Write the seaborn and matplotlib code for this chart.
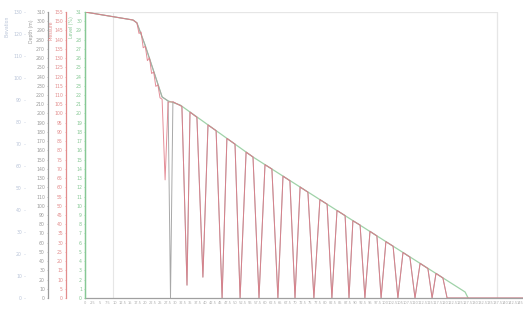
import numpy as np
import pandas as pd
import matplotlib
matplotlib.use("Agg")
import matplotlib.pyplot as plt
import seaborn as sns

# ---------------- data ----------------
# envelope (green)
env_x = [0, 16, 17.3, 20, 23.3, 25.7, 27.7, 31.7, 56.0, 71.7, 126.7, 127.7]
env_y = [100, 97.2, 96.2, 88.5, 78.0, 70.3, 68.9, 67.5, 49.3, 38.8, 2.1, 0]

# start of gray series
gray_head_x = [0, 16, 17.3, 20, 23.3, 25.7, 27.7, 28.5]
gray_head_y = [100, 97.2, 96.2, 88.5, 78.0, 70.3, 68.9, 0]

# start of red series (noisy descent)
red_head_x = [0, 16, 17.3, 18.0, 18.7, 19.4, 20.1, 20.8, 21.5, 22.2, 22.9,
              23.6, 24.3, 25.0, 25.7, 26.7, 27.7]
red_head_y = [100, 97.2, 96.2, 92.5, 93.0, 87.5, 88.0, 83.0, 84.0, 78.5, 79.0,
              74.0, 74.5, 70.0, 69.5, 41.3, 68.5]

# shared pulse section
tooth_x = [29.3, 32.3, 34.0, 35.0, 37.3, 39.3, 41.0, 43.7, 45.7, 47.3, 50.0,
           51.7, 53.7, 56.0, 58.0, 60.0, 62.3, 64.3, 66.0, 68.3, 70.0, 71.7,
           74.3, 76.3, 78.3, 80.7, 82.3, 84.0, 86.7, 88.0, 89.3, 91.7, 93.3,
           95.0, 97.3, 98.7, 100.3, 102.7, 104.3, 106.0, 108.3, 110.0, 111.7,
           114.3, 115.7, 117.0, 119.3, 120.7, 146.0]
tooth_y = [68.6, 67.0, 4.5, 65.0, 63.2, 7.3, 60.5, 58.5, 0, 55.8, 53.8,
           0, 51.0, 49.3, 0, 46.6, 45.1, 0, 42.6, 41.0, 0, 38.8,
           37.0, 0, 34.4, 32.8, 0, 30.6, 28.8, 0, 27.0, 25.5, 0,
           23.3, 21.7, 0, 19.7, 18.1, 0, 15.9, 14.3, 0, 12.1,
           10.3, 0, 8.6, 7.0, 0, 0]

# axis tick values
axis_a_ticks = list(range(0, 140, 10))      # sparse outer axis
axis_b_ticks = list(range(0, 320, 10))
axis_c_ticks = list(range(0, 160, 5))
axis_d_ticks = list(range(0, 32, 1))
x_ticks = list(np.arange(0, 146, 2.5))

labels = {"A": "Elevation", "B": "Depth (m)", "C": "Pressure", "D": "Level (%)"}
colors = {"A": "#b9c4d8", "B": "#9a9a9a", "C": "#e38c8c", "D": "#86c894"}

gray_df = pd.DataFrame({"x": gray_head_x + tooth_x, "y": gray_head_y + tooth_y})
red_df = pd.DataFrame({"x": red_head_x + tooth_x, "y": red_head_y + tooth_y})
env_df = pd.DataFrame({"x": env_x, "y": env_y})

# ---------------- figure ----------------
sns.set_theme(style="white")
plt.rcParams["font.family"] = ["DejaVu Sans"]
fs = 3.3

fig = plt.figure(figsize=(5.23, 3.2), dpi=100)
W, H = 523, 320
ax = fig.add_axes([85 / W, (H - 298) / H, 438 / W, 286 / H])
ax.set_xlim(0, 146)
ax.set_ylim(0, 100)

# light frame / grid
ax.axvline(9.3, color="#e6e6e6", lw=0.8, zorder=0)
ax.axvline(137.3, color="#e6e6e6", lw=0.9, zorder=0)
ax.axhline(100, xmax=137.3 / 146, color="#e6e6e6", lw=0.9, zorder=0)

sns.lineplot(data=env_df, x="x", y="y", ax=ax, sort=False, estimator=None,
             color="#9fd2a8", lw=0.9, zorder=2)
sns.lineplot(data=gray_df, x="x", y="y", ax=ax, sort=False, estimator=None,
             color="#a8a8a8", lw=0.7, zorder=3)
sns.lineplot(data=red_df, x="x", y="y", ax=ax, sort=False, estimator=None,
             color="#e07a86", lw=0.7, alpha=0.85, zorder=4)

ax.set_xlabel("")
ax.set_ylabel("")
ax.set_yticks([])
for s in ["top", "right"]:
    ax.spines[s].set_visible(False)
ax.spines["left"].set_color(colors["D"])
ax.spines["left"].set_linewidth(0.9)
ax.spines["bottom"].set_color("#a0a0a0")
ax.spines["bottom"].set_linewidth(0.9)
ax.set_xticks(x_ticks)
ax.set_xticklabels([f"{v:g}" for v in x_ticks])
ax.tick_params(axis="x", labelsize=2.6, colors="#b0b0b0", length=1.2, pad=1,
               width=0.4)

# extra y axes on the left
def add_axis(key, ticks, lim, outward_px, show_spine):
    tw = ax.twinx()
    tw.set_ylim(*lim)
    tw.yaxis.set_ticks_position("left")
    tw.yaxis.set_label_position("left")
    tw.spines["left"].set_position(("outward", outward_px * 72 / 100))
    tw.spines["left"].set_visible(show_spine)
    tw.spines["left"].set_color(colors[key])
    tw.spines["left"].set_linewidth(0.9)
    for s in ["right", "top", "bottom"]:
        tw.spines[s].set_visible(False)
    tw.set_yticks(ticks)
    tw.set_yticklabels([f"{v:g}" for v in ticks])
    tw.tick_params(axis="y", labelsize=fs, colors=colors[key], length=1.0,
                   pad=1.2, width=0.4)
    tw.grid(False)
    return tw

add_axis("D", axis_d_ticks, (0, 31), 0, True)
add_axis("C", axis_c_ticks, (0, 155), 19, True)
add_axis("B", axis_b_ticks, (0, 310), 37, True)
add_axis("A", axis_a_ticks, (0, 130), 60, False)

# axis titles (vertical, near top)
for key, px, py in [("A", 7, 26), ("B", 32, 31), ("C", 51, 30), ("D", 71, 27)]:
    fig.text(px / W, 1 - py / H, labels[key], rotation=90, ha="center",
             va="center", fontsize=fs, color=colors[key])

fig.savefig("out.png", dpi=100)
